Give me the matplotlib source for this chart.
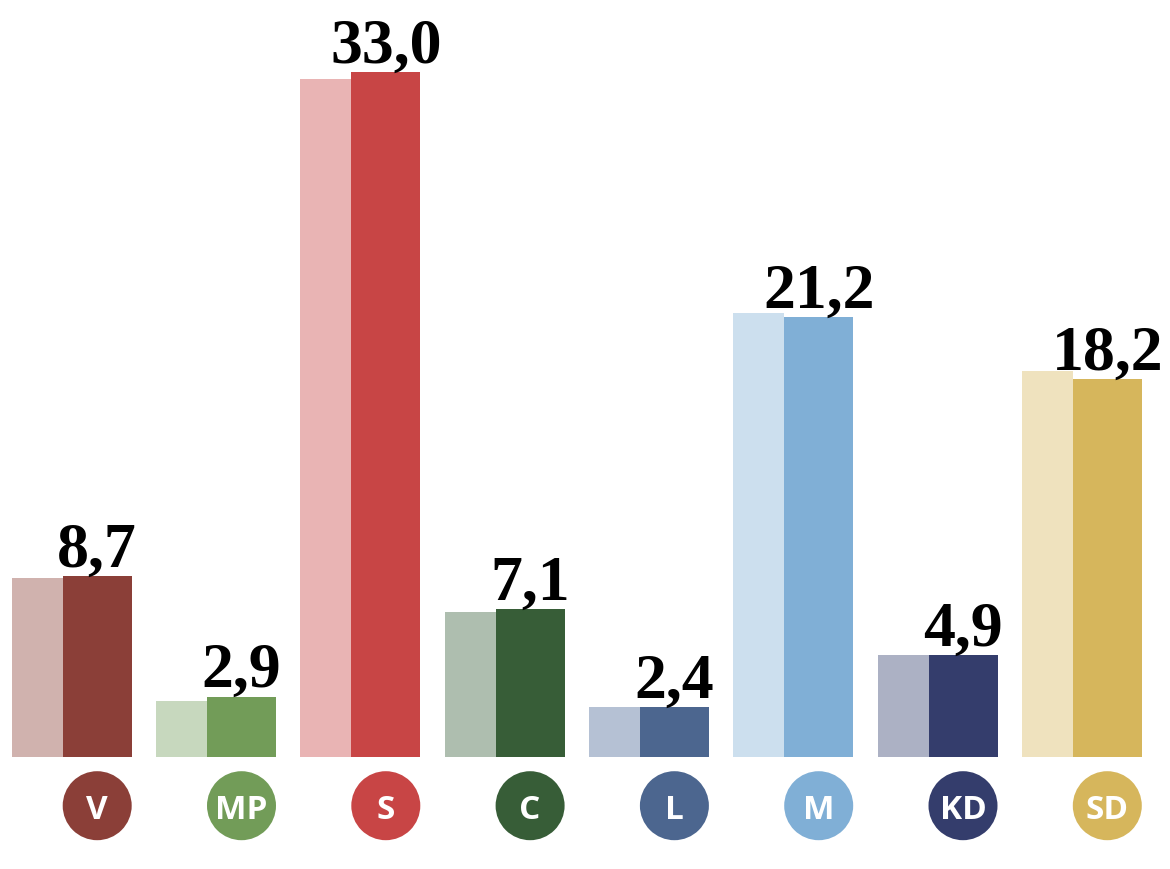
import matplotlib
matplotlib.use("Agg")
import matplotlib.pyplot as plt

parties = ["V", "MP", "S", "C", "L", "M", "KD", "SD"]
previous = [8.6, 2.7, 32.7, 7.0, 2.4, 21.4, 4.9, 18.6]
current = [8.7, 2.9, 33.0, 7.1, 2.4, 21.2, 4.9, 18.2]
dark_colors = ["#8B3F38", "#729C58", "#C84545", "#375D37",
               "#4C668F", "#80AFD6", "#343D6C", "#D6B65C"]
light_colors = ["#D0B2AE", "#C7D8BE", "#E9B4B4", "#AEBEAF",
                "#B5C1D4", "#CCDFEE", "#ACB1C4", "#EFE2BE"]

step = 144.3
fig = plt.figure(figsize=(11.7, 8.7), dpi=100)
ax = fig.add_axes([0, 0, 1, 1])
ax.set_xlim(-97.2 / step, (1170 - 97.2) / step)
ax.set_ylim(-112.3 / 20.74, 757.7 / 20.74)
ax.axis("off")

xs = list(range(len(parties)))
ax.bar([x - 60 / step for x in xs], previous, width=51 / step,
       color=light_colors, align="center", zorder=1)
ax.bar(xs, current, width=69 / step, color=dark_colors, align="center", zorder=2)

for x, v in zip(xs, current):
    ax.annotate(f"{v:.1f}".replace(".", ","), xy=(x, v), xytext=(0, 7.5),
                textcoords="offset points", ha="center", va="baseline",
                fontsize=46, fontweight="bold", family="Liberation Serif",
                color="black", zorder=3)

circle_y = -(806.7 - 757.7) / 20.74
d_pt = 69 * 0.72
ax.scatter(xs, [circle_y] * len(xs), s=d_pt ** 2, c=dark_colors,
           marker="o", linewidths=0, clip_on=False, zorder=2)
for x, p in zip(xs, parties):
    ax.text(x, circle_y, p, ha="center", va="center_baseline",
            fontsize=24, fontweight="bold", family="Open Sans",
            color="white", zorder=3)

fig.savefig("out.png", dpi=100, facecolor="white")
